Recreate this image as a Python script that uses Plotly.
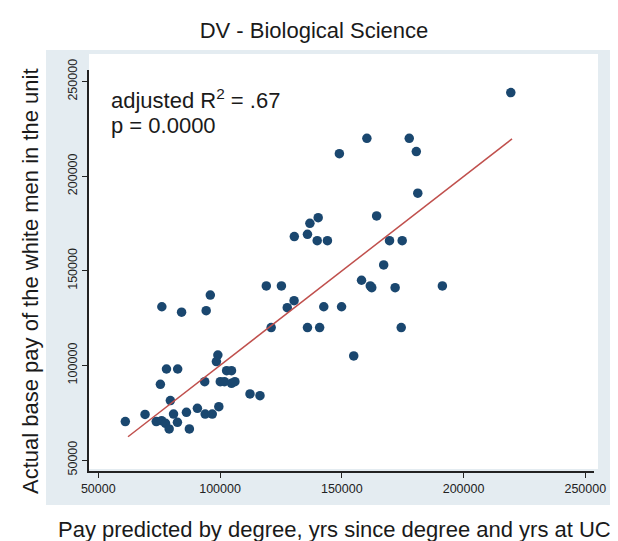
import plotly.graph_objects as go

# predicted pay (x) vs actual base pay (y)
x_pred = [219400, 160300, 177700, 149000, 180600, 181200, 164300, 140300, 136900, 130500,
          135900, 139900, 144100, 169600, 174800, 167200, 119000, 125200, 158100, 161700,
          162300, 171900, 191300, 96000, 76100, 94300, 84200, 130400, 127600, 142600,
          149900, 121000, 135900, 140900, 174400, 154900, 99100, 98500, 78000, 82600,
          102700, 104700, 75500, 93700, 100100, 101800, 104700, 106100, 112300, 116400,
          79600, 99500, 90700, 86200, 80900, 93900, 96800, 69200, 61100, 73800,
          76000, 77600, 82500, 79100, 87400]
y_actual = [244200, 220000, 220000, 211900, 213000, 191000, 179000, 178100, 175100, 168100,
            169300, 165900, 165900, 165900, 165900, 153100, 142000, 142000, 145000, 142000,
            141100, 141100, 142000, 137200, 131000, 128900, 128100, 134200, 130500, 131000,
            131000, 120000, 120000, 120000, 120000, 105000, 105500, 102000, 98100, 98100,
            97200, 97200, 90000, 91400, 91400, 91400, 90500, 91400, 84900, 84000,
            81400, 78200, 77300, 75200, 74300, 74300, 74300, 74100, 70300, 70300,
            70800, 69400, 69900, 66400, 66400]

# fitted line endpoints
fit_x = [62200, 219900]
fit_y = [62300, 219700]

tick_vals = [50000, 100000, 150000, 200000, 250000]
tick_text = ["50000", "100000", "150000", "200000", "250000"]

FONT = "Liberation Sans, Arial, sans-serif"
W, H = 618, 541
ML, MR, MT, MB = 81, 32, 62, 78

def px_x(p):
    return (p - ML) / (W - ML - MR)

def px_y(p):
    return (H - MB - p) / (H - MT - MB)

fig = go.Figure()

fig.add_trace(go.Scatter(
    x=x_pred, y=y_actual, mode="markers",
    marker=dict(color="#1a476f", size=9.5, line=dict(width=0)),
    showlegend=False))

fig.add_trace(go.Scatter(
    x=fit_x, y=fit_y, mode="lines",
    line=dict(color="#c0504d", width=1.5),
    showlegend=False))

# stata style graph region (light blue) and white plot region
fig.add_shape(type="rect", xref="paper", yref="paper", layer="below",
              x0=px_x(38), x1=px_x(602), y0=px_y(497), y1=px_y(42),
              fillcolor="#e4ecf1", line=dict(width=0))
fig.add_shape(type="rect", xref="paper", yref="paper", layer="below",
              x0=px_x(81), x1=px_x(590), y0=px_y(461), y1=px_y(46),
              fillcolor="white", line=dict(width=0))

txt_font = dict(family=FONT, size=22, color="#1a1a1a")

fig.add_annotation(text="adjusted R<sup>2</sup> = .67", xref="paper", yref="paper",
                   x=px_x(101), y=px_y(91), xanchor="left", yanchor="middle",
                   showarrow=False, font=txt_font)
fig.add_annotation(text="p = 0.0000", xref="paper", yref="paper",
                   x=px_x(101), y=px_y(118), xanchor="left", yanchor="middle",
                   showarrow=False, font=txt_font)

# axis titles
fig.add_annotation(text="Pay predicted by degree, yrs since degree and yrs at UC",
                   xref="paper", yref="paper", x=px_x(326), y=px_y(521),
                   xanchor="center", yanchor="middle", showarrow=False, font=txt_font)
fig.add_annotation(text="Actual base pay of the white men in the unit",
                   xref="paper", yref="paper", x=px_x(22), y=px_y(273), textangle=-90,
                   xanchor="center", yanchor="middle", showarrow=False, font=txt_font)

axis_common = dict(showline=True, linewidth=1.5, linecolor="#222222",
                   ticks="outside", ticklen=5, tickwidth=1.2, tickcolor="#222222",
                   showgrid=False, zeroline=False,
                   tickvals=tick_vals, ticktext=tick_text,
                   tickfont=dict(family=FONT, size=12.5, color="#222222"))

fig.update_xaxes(range=[46183, 253570], **axis_common)
fig.update_yaxes(range=[44186, 256130], tickangle=-90, **axis_common)

fig.update_layout(
    width=W, height=H,
    margin=dict(l=ML, r=MR, t=MT, b=MB),
    paper_bgcolor="white",
    plot_bgcolor="rgba(0,0,0,0)",
    title=dict(text="DV - Biological Science", x=306 / W, y=1 - 22 / H,
               xanchor="center", yanchor="middle", font=txt_font),
)

fig.write_html("out.html")
